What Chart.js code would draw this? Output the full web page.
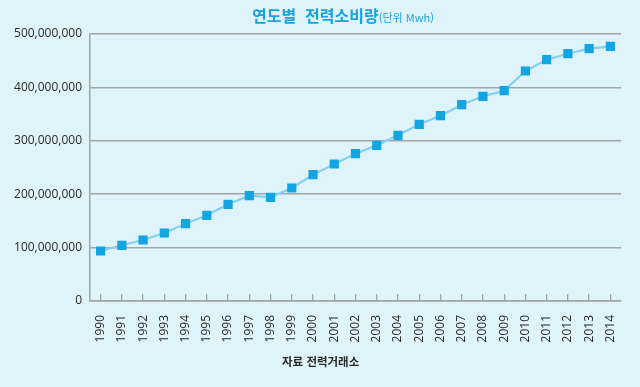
<!DOCTYPE html>
<html lang="ko">
<head>
    <meta charset="UTF-8">
    <title>연도별 전력소비량</title>
    <script src="https://cdn.jsdelivr.net/npm/chart.js"></script>
    <style>
        html, body { margin: 0; padding: 0; }
        body { width: 640px; height: 387px; background: #dff3fb; position: relative; overflow: hidden; }
        .title {
            position: absolute; top: 3px; left: 252px; white-space: nowrap;
            font-family: "Noto Sans CJK KR", sans-serif; color: #1ba2dc;
            font-size: 16px; font-weight: bold;
        }
        .title small { font-size: 11px; font-weight: normal; }
        .source {
            position: absolute; top: 353px; left: 282px; white-space: nowrap;
            font-family: "Noto Sans CJK KR", sans-serif; color: #2a2a2a;
            font-size: 11.5px; font-weight: bold;
        }
        .chart-box { position: absolute; left: 0; top: 0; width: 640px; height: 387px; }
    </style>
</head>
<body>
    <div class="chart-box"><canvas id="powerChart" width="640" height="387"></canvas></div>
    <div class="title">연도별&nbsp; 전력소비량<small>(단위 Mwh)</small></div>
    <div class="source">자료 전력거래소</div>
    <script>
        // 연도 / 소비량 (Mwh)
        const years = ['1990', '1991', '1992', '1993', '1994', '1995', '1996', '1997', '1998', '1999',
                       '2000', '2001', '2002', '2003', '2004', '2005', '2006', '2007', '2008', '2009',
                       '2010', '2011', '2012', '2013', '2014'];
        const usage = [93600000, 104300000, 114200000, 127300000, 144800000, 160500000, 181000000,
                       197200000, 194200000, 211600000, 236500000, 256600000, 275900000, 291600000,
                       310300000, 330900000, 347000000, 367600000, 383300000, 393800000, 430700000,
                       451900000, 463100000, 472500000, 477000000];
        const yMax = 500000000;
        const yStep = 100000000;

        const ctx = document.getElementById('powerChart').getContext('2d');
        const powerChart = new Chart(ctx, {
            type: 'line',
            data: {
                labels: years,
                datasets: [{
                    data: usage,
                    borderColor: '#85d0ef',
                    borderWidth: 2.2,
                    tension: 0,
                    pointStyle: 'rect',
                    pointRadius: 6.5,
                    pointBackgroundColor: '#13a4e2',
                    pointBorderColor: '#13a4e2',
                    pointBorderWidth: 0
                }]
            },
            options: {
                responsive: false,
                animation: false,
                layout: { padding: { left: 0, right: 19, top: 34, bottom: 0 } },
                plugins: { legend: { display: false }, tooltip: { enabled: false } },
                scales: {
                    x: {
                        offset: true,
                        afterFit: (scale) => {
                            scale.height = 86;
                            scale.paddingLeft = 0;
                            scale.paddingRight = 0;
                        },
                        grid: {
                            offset: false,
                            drawOnChartArea: false,
                            drawTicks: true,
                            tickLength: -7,
                            color: '#9fa3a6',
                            lineWidth: 1.3
                        },
                        border: { display: true, color: '#9fa3a6', width: 1.5 },
                        ticks: {
                            maxRotation: 90,
                            minRotation: 90,
                            autoSkip: false,
                            padding: 21,
                            color: '#2a2a2a',
                            font: { family: 'Open Sans', size: 12 }
                        }
                    },
                    y: {
                        min: 0,
                        max: yMax,
                        afterFit: (scale) => {
                            scale.width = 90;
                            scale.paddingTop = 0;
                            scale.paddingBottom = 0;
                        },
                        grid: { color: '#a3a6a8', lineWidth: 1.5, drawTicks: false },
                        border: { display: true, color: '#a3a6a8', width: 1.5 },
                        ticks: {
                            stepSize: yStep,
                            padding: 8,
                            color: '#2a2a2a',
                            font: { family: 'Open Sans', size: 12 },
                            callback: (v) => v.toLocaleString('en-US')
                        }
                    }
                }
            }
        });
    </script>
</body>
</html>
